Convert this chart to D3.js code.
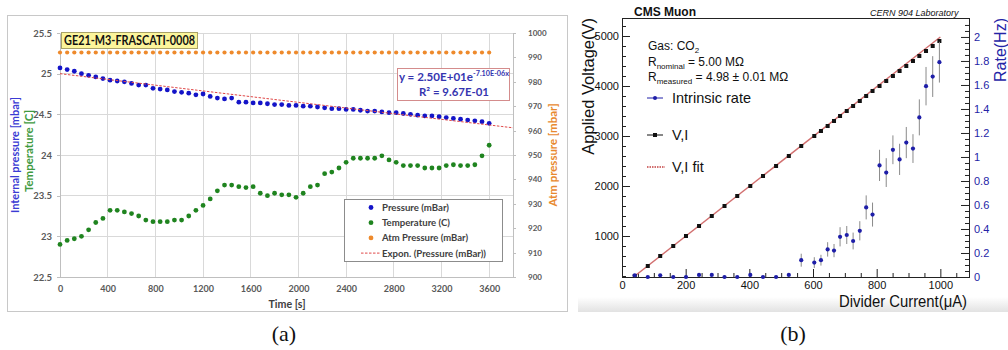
<!DOCTYPE html>
<html>
<head>
<meta charset="utf-8">
<script src="https://cdn.jsdelivr.net/npm/d3@7/dist/d3.min.js"></script>
<style>
  body { margin: 0; background: #fff; }
  svg { display: block; }
</style>
</head>
<body>
<svg id="fig" width="1008" height="350"></svg>
<script>
// ---------- (a) leak test of GE21-M3-FRASCATI-0008 ----------
const timeSec = [0, 60, 120, 180, 240, 300, 360, 420, 480, 540, 600, 660, 720, 780, 840, 900, 960, 1020,
  1080, 1140, 1200, 1260, 1320, 1380, 1440, 1500, 1560, 1620, 1680, 1740, 1800, 1860, 1920, 1980, 2040,
  2100, 2160, 2220, 2280, 2340, 2400, 2460, 2520, 2580, 2640, 2700, 2760, 2820, 2880, 2940, 3000, 3060,
  3120, 3180, 3240, 3300, 3360, 3420, 3480, 3540, 3600];
const pressure = [25.07, 25.05, 25.03, 25.00, 24.98, 24.96, 24.94, 24.92, 24.91, 24.90, 24.88, 24.86,
  24.86, 24.82, 24.81, 24.80, 24.78, 24.77, 24.76, 24.74, 24.75, 24.72, 24.70, 24.69, 24.70, 24.65, 24.65,
  24.64, 24.64, 24.63, 24.62, 24.62, 24.61, 24.61, 24.60, 24.60, 24.59, 24.58, 24.57, 24.57, 24.56, 24.56,
  24.55, 24.54, 24.54, 24.53, 24.52, 24.52, 24.51, 24.50, 24.49, 24.48, 24.48, 24.47, 24.46, 24.45, 24.44,
  24.43, 24.42, 24.41, 24.39];
const temperature = [22.90, 22.95, 22.97, 23.00, 23.08, 23.17, 23.22, 23.32, 23.32, 23.30, 23.28, 23.25,
  23.20, 23.18, 23.18, 23.18, 23.20, 23.20, 23.25, 23.32, 23.38, 23.46, 23.56, 23.63, 23.63, 23.61, 23.60,
  23.61, 23.53, 23.50, 23.53, 23.51, 23.51, 23.48, 23.53, 23.61, 23.63, 23.77, 23.79, 23.84, 23.91, 23.96,
  23.96, 23.96, 23.96, 23.99, 23.94, 23.91, 23.87, 23.87, 23.87, 23.84, 23.84, 23.84, 23.87, 23.88, 23.87,
  23.87, 23.88, 23.99, 24.12];
const atmPressure = [992, 992, 992, 992, 992, 992, 992, 992, 992, 992, 992, 992, 992, 992, 992, 992,
  992, 992, 992, 992, 992, 992, 992, 992, 992, 992, 992, 992, 992, 992, 992, 992, 992, 992, 992, 992,
  992, 992, 992, 992, 992, 992, 992, 992, 992, 992, 992, 992, 992, 992, 992, 992, 992, 992, 992, 992,
  992, 992, 992, 992, 992];
const expA = 25.0, expB = -7.10e-6;   // y = 2.50E+01 e^(-7.10E-06 x)
const timeTicks = [0, 400, 800, 1200, 1600, 2000, 2400, 2800, 3200, 3600];
const leftTicks = [22.5, 23, 23.5, 24, 24.5, 25, 25.5];
const atmTicks = [900, 910, 920, 930, 940, 950, 960, 970, 980, 990, 1000];

// ---------- (b) divider current scan ----------
const current = [40, 81, 120, 161, 201, 242, 282, 322, 362, 403, 443, 484, 524, 563, 604, 625, 646, 666,
  685, 706, 726, 747, 767, 787, 809, 830, 851, 872, 893, 914, 934, 955, 976, 997];
const voltage = [200, 400, 600, 800, 1000, 1200, 1400, 1600, 1800, 2000, 2200, 2400, 2600, 2800, 3000,
  3100, 3200, 3300, 3400, 3500, 3600, 3700, 3800, 3900, 4000, 4100, 4200, 4300, 4400, 4500, 4600, 4700,
  4800, 4900];
const rate = [0.014, 0, 0.014, 0, 0, 0.017, 0.017, 0, 0, 0.017, 0, 0, 0.017, 0.14, 0.12, 0.14, 0.23, 0.22,
  0.335, 0.35, 0.30, 0.385, 0.58, 0.52, 0.93, 0.87, 1.06, 0.98, 1.12, 1.07, 1.33, 1.59, 1.67, 1.79];
const rateErr = [0.01, 0.01, 0.01, 0.01, 0.01, 0.01, 0.01, 0.01, 0.01, 0.01, 0.01, 0.01, 0.01, 0.054,
  0.045, 0.045, 0.06, 0.055, 0.08, 0.075, 0.07, 0.08, 0.1, 0.1, 0.13, 0.12, 0.12, 0.13, 0.13, 0.12, 0.15,
  0.16, 0.17, 0.17];
const fitR = 4.98;   // MOhm, V = R * I
const currentTicks = [0, 200, 400, 600, 800, 1000];
const voltageTicks = [1000, 2000, 3000, 4000, 5000];
const rateTicks = [0, 0.2, 0.4, 0.6, 0.8, 1, 1.2, 1.4, 1.6, 1.8, 2];

const svg = d3.select('#fig');
const excel = 'Lato, "Open Sans", sans-serif';
const root = '"Liberation Sans", Arial, sans-serif';
const plain = d3.format('');   // no thousands separator

function squeeze(sel, len) {
  return sel.attr('textLength', len).attr('lengthAdjust', 'spacingAndGlyphs');
}

// =================== panel (a) ===================
const pa = svg.append('g');
pa.append('rect').attr('x', 7.5).attr('y', 15.5).attr('width', 560).attr('height', 296)
  .attr('fill', '#fff').attr('stroke', '#c8c8c8');

const xA = d3.scaleLinear().domain([0, 3800]).range([60, 513]);
const yA = d3.scaleLinear().domain([22.5, 25.5]).range([277, 33]);
const yAtm = d3.scaleLinear().domain([900, 1000]).range([277, 33]);

// gridlines
pa.append('g').attr('shape-rendering', 'crispEdges').selectAll('line')
  .data(leftTicks.slice(1)).join('line')
  .attr('x1', xA(0)).attr('x2', xA(3800)).attr('y1', d => yA(d)).attr('y2', d => yA(d))
  .attr('stroke', '#d9d9d9');
pa.append('g').attr('shape-rendering', 'crispEdges').selectAll('line')
  .data(timeTicks.slice(1)).join('line')
  .attr('x1', d => xA(d)).attr('x2', d => xA(d)).attr('y1', yA(22.5)).attr('y2', yA(25.5))
  .attr('stroke', '#d9d9d9');

function excelAxis(g, size) {
  g.attr('font-family', excel).attr('font-weight', 'bold').attr('font-size', size);
  g.selectAll('.domain, line').attr('stroke', '#bfbfbf').attr('shape-rendering', 'crispEdges');
  g.selectAll('text').attr('fill', '#595959');
}

pa.append('g').attr('transform', `translate(0,${yA(22.5)})`)
  .call(d3.axisBottom(xA).tickValues(timeTicks).tickSize(0).tickPadding(9).tickSizeOuter(0).tickFormat(plain))
  .call(g => excelAxis(g, 9));
pa.append('g').attr('transform', `translate(${xA(0)},0)`)
  .call(d3.axisLeft(yA).tickValues(leftTicks).tickSize(3).tickPadding(5).tickSizeOuter(0).tickFormat(plain))
  .call(g => excelAxis(g, 9.5));
pa.append('g').attr('transform', `translate(${xA(3800)},0)`)
  .call(d3.axisRight(yAtm).tickValues(atmTicks).tickSize(3).tickPadding(12).tickSizeOuter(0).tickFormat(plain))
  .call(g => excelAxis(g, 8));

// axis titles
squeeze(pa.append('text').attr('x', 287).attr('y', 308).attr('text-anchor', 'middle')
  .attr('font-family', excel).attr('font-weight', 'bold').attr('font-size', 11).attr('fill', '#404040')
  .text('Time [s]'), 37);
squeeze(pa.append('text').attr('transform', 'translate(19,155) rotate(-90)').attr('text-anchor', 'middle')
  .attr('font-family', excel).attr('font-weight', 'bold').attr('font-size', 11).attr('fill', '#3b3bd4')
  .text('Internal pressure [mbar]'), 116);
squeeze(pa.append('text').attr('transform', 'translate(33,151) rotate(-90)').attr('text-anchor', 'middle')
  .attr('font-family', excel).attr('font-weight', 'bold').attr('font-size', 11).attr('fill', '#3f9a3f')
  .text('Temperature [C]'), 82);
squeeze(pa.append('text').attr('transform', 'translate(557,155) rotate(-90)').attr('text-anchor', 'middle')
  .attr('font-family', excel).attr('font-weight', 'bold').attr('font-size', 10.5).attr('fill', '#e8892f')
  .text('Atm pressure [mbar]'), 103);

// series
const colP = '#1414c8', colT = '#1f841f', colAtm = '#ee8a2c', colFit = '#e04848';
pa.append('g').selectAll('circle').data(timeSec).join('circle')
  .attr('cx', d => xA(d)).attr('cy', (d, i) => yAtm(atmPressure[i])).attr('r', 2.1).attr('fill', colAtm);
pa.append('g').selectAll('circle').data(timeSec).join('circle')
  .attr('cx', d => xA(d)).attr('cy', (d, i) => yA(temperature[i])).attr('r', 2.4).attr('fill', colT);
pa.append('g').selectAll('circle').data(timeSec).join('circle')
  .attr('cx', d => xA(d)).attr('cy', (d, i) => yA(pressure[i])).attr('r', 2.4).attr('fill', colP);

// exponential trendline (from fitted parameters)
pa.append('path').datum(d3.range(0, 3801, 100))
  .attr('d', d3.line().x(t => xA(t)).y(t => yA(expA * Math.exp(expB * t))))
  .attr('fill', 'none').attr('stroke', colFit).attr('stroke-width', 1).attr('stroke-dasharray', '2.5,1.5');

// title badge
pa.append('rect').attr('x', 61.5).attr('y', 32.5).attr('width', 136).attr('height', 16)
  .attr('fill', '#fcf59b').attr('stroke', '#a8a268');
squeeze(pa.append('text').attr('x', 64).attr('y', 45)
  .attr('font-family', excel).attr('font-weight', 'bold').attr('font-size', 12.5).attr('fill', '#111')
  .text('GE21-M3-FRASCATI-0008'), 131);

// trendline equation
pa.append('rect').attr('x', 397.5).attr('y', 68.5).attr('width', 112).attr('height', 32)
  .attr('fill', '#fff').attr('stroke', '#d48c8c');
const eq = pa.append('text').attr('x', 399).attr('y', 81)
  .attr('font-family', excel).attr('font-weight', 'bold').attr('font-size', 11).attr('fill', '#3535b0');
squeeze(eq.append('tspan').text('y = 2.50E+01e'), 74);
eq.append('tspan').attr('dy', -5).attr('font-size', 6.5).attr('textLength', 36)
  .attr('lengthAdjust', 'spacingAndGlyphs').text('-7.10E-06x');
squeeze(pa.append('text').attr('x', 419).attr('y', 96)
  .attr('font-family', excel).attr('font-weight', 'bold').attr('font-size', 11).attr('fill', '#3535b0')
  .text('R² = 9.67E-01'), 70);

// legend
const legA = [
  { label: 'Pressure (mBar)', color: colP, len: 67 },
  { label: 'Temperature (C)', color: colT, len: 68 },
  { label: 'Atm Pressure (mBar)', color: colAtm, len: 86 },
  { label: 'Expon. (Pressure (mBar))', color: colFit, len: 104, dash: true }
];
pa.append('rect').attr('x', 344.5).attr('y', 199.5).attr('width', 158).attr('height', 62)
  .attr('fill', '#fff').attr('stroke', '#8c8c8c');
legA.forEach((d, i) => {
  const y = 207.5 + i * 15.2;
  if (d.dash) {
    pa.append('line').attr('x1', 361).attr('x2', 381).attr('y1', y).attr('y2', y)
      .attr('stroke', d.color).attr('stroke-dasharray', '2.5,1.5');
  } else {
    pa.append('circle').attr('cx', 371).attr('cy', y).attr('r', 2.4).attr('fill', d.color);
  }
  squeeze(pa.append('text').attr('x', 382).attr('y', y + 3.5)
    .attr('font-family', excel).attr('font-weight', 'bold').attr('font-size', 9.5).attr('fill', '#404040')
    .text(d.label), d.len);
});

// =================== panel (b) ===================
const pb = svg.append('g');

// soft shadow under the plot
const grad = svg.append('defs').append('linearGradient').attr('id', 'shade')
  .attr('x1', 0).attr('y1', 0).attr('x2', 0).attr('y2', 1);
grad.append('stop').attr('offset', 0).attr('stop-color', '#fff');
grad.append('stop').attr('offset', 1).attr('stop-color', '#e2e2e2');
pb.append('rect').attr('x', 578).attr('y', 297).attr('width', 430).attr('height', 15).attr('fill', 'url(#shade)');

const xB = d3.scaleLinear().domain([0, 1090]).range([622, 969]);
const yV = d3.scaleLinear().domain([180, 5360]).range([277, 18]);
const yR = d3.scaleLinear().domain([0, 2.158]).range([277, 18]);

pb.append('clipPath').attr('id', 'frameB').append('rect')
  .attr('x', 622).attr('y', 18).attr('width', 347).attr('height', 259);

function rootAxis(g, color) {
  g.attr('font-family', root).attr('font-size', 11);
  g.select('.domain').remove();
  g.selectAll('line').attr('stroke', '#222');
  g.selectAll('text').attr('fill', color);
}

const minorI = d3.range(50, 1090, 50).filter(v => v % 200 !== 0);
const minorV = d3.range(200, 5360, 200).filter(v => v % 1000 !== 0);
const minorR = d3.range(0.05, 2.15, 0.05).filter(v => Math.abs(v / 0.2 - Math.round(v / 0.2)) > 1e-6);

pb.append('g').attr('transform', 'translate(0,277)')
  .call(d3.axisBottom(xB).tickValues(currentTicks).tickSize(-8).tickPadding(4).tickFormat(plain))
  .call(g => rootAxis(g, '#111'));
pb.append('g').attr('transform', 'translate(0,277)')
  .call(d3.axisBottom(xB).tickValues(minorI).tickSize(-4).tickFormat(''))
  .call(g => rootAxis(g, '#111'));
pb.append('g').attr('transform', 'translate(622,0)')
  .call(d3.axisLeft(yV).tickValues(voltageTicks).tickSize(-8).tickPadding(3).tickFormat(plain))
  .call(g => rootAxis(g, '#111'));
pb.append('g').attr('transform', 'translate(622,0)')
  .call(d3.axisLeft(yV).tickValues(minorV).tickSize(-4).tickFormat(''))
  .call(g => rootAxis(g, '#111'));
pb.append('g').attr('transform', 'translate(969,0)')
  .call(d3.axisRight(yR).tickValues(rateTicks).tickSize(-8).tickPadding(5).tickFormat(plain))
  .call(g => rootAxis(g, '#2424a6'));
pb.append('g').attr('transform', 'translate(969,0)')
  .call(d3.axisRight(yR).tickValues(minorR).tickSize(-4).tickFormat(''))
  .call(g => rootAxis(g, '#2424a6'));

pb.append('rect').attr('x', 622).attr('y', 18).attr('width', 347).attr('height', 259)
  .attr('fill', 'none').attr('stroke', '#222').attr('shape-rendering', 'crispEdges');

// V,I fit line
const colFitB = '#d27070';
pb.append('path').datum([36, 1000]).attr('clip-path', 'url(#frameB)')
  .attr('d', d3.line().x(i => xB(i)).y(i => yV(fitR * i)))
  .attr('stroke', colFitB).attr('stroke-width', 1.4).attr('fill', 'none');

// V,I points
pb.append('g').attr('clip-path', 'url(#frameB)').selectAll('rect').data(current).join('rect')
  .attr('x', d => xB(d) - 2).attr('y', (d, i) => yV(voltage[i]) - 2)
  .attr('width', 4).attr('height', 4).attr('fill', '#111');

// rate with error bars
pb.append('g').selectAll('line').data(current).join('line')
  .attr('x1', d => xB(d)).attr('x2', d => xB(d))
  .attr('y1', (d, i) => yR(Math.max(0, rate[i] - rateErr[i])))
  .attr('y2', (d, i) => yR(rate[i] + rateErr[i]))
  .attr('stroke', '#8a8a8a').attr('stroke-width', 1);
pb.append('g').selectAll('circle').data(current).join('circle')
  .attr('cx', d => xB(d)).attr('cy', (d, i) => yR(rate[i])).attr('r', 2.1).attr('fill', '#1e1ea8');

// titles
pb.append('text').attr('x', 634).attr('y', 16).attr('font-family', root).attr('font-weight', 'bold')
  .attr('font-size', 12).attr('fill', '#111').text('CMS Muon');
pb.append('text').attr('x', 870).attr('y', 16).attr('font-family', root).attr('font-style', 'italic')
  .attr('font-size', 9).attr('fill', '#111').text('CERN 904 Laboratory');
pb.append('text').attr('transform', 'translate(594,18) rotate(-90)').attr('text-anchor', 'end')
  .attr('font-family', root).attr('font-size', 16.5).attr('fill', '#111').text('Applied Voltage(V)');
pb.append('text').attr('transform', 'translate(1006,18) rotate(-90)').attr('text-anchor', 'end')
  .attr('font-family', root).attr('font-size', 16).attr('fill', '#2424a6').text('Rate(Hz)');
squeeze(pb.append('text').attr('x', 967).attr('y', 307).attr('text-anchor', 'end')
  .attr('font-family', root).attr('font-size', 16).attr('fill', '#111').text('Divider Current(μA)'), 128);

// info text
const info = pb.append('g').attr('font-family', root).attr('font-size', 12).attr('fill', '#111');
const t1 = info.append('text').attr('x', 648).attr('y', 50).text('Gas: CO');
t1.append('tspan').attr('dy', 3).attr('font-size', 8).text('2');
const t2 = info.append('text').attr('x', 648).attr('y', 66).text('R');
t2.append('tspan').attr('dy', 3).attr('font-size', 8).text('nominal');
t2.append('tspan').attr('dy', -3).text(' = 5.00 MΩ');
const t3 = info.append('text').attr('x', 648).attr('y', 81).text('R');
t3.append('tspan').attr('dy', 3).attr('font-size', 8).text('measured');
t3.append('tspan').attr('dy', -3).text(' = 4.98 ± 0.01 MΩ');

// legend
const legB = [
  { label: 'Intrinsic rate', y: 98, kind: 'rate' },
  { label: 'V,I', y: 135, kind: 'vi' },
  { label: 'V,I fit', y: 167, kind: 'fit' }
];
legB.forEach(d => {
  if (d.kind === 'fit') {
    pb.append('line').attr('x1', 647).attr('x2', 665).attr('y1', d.y).attr('y2', d.y)
      .attr('stroke', colFitB).attr('stroke-width', 2).attr('stroke-dasharray', '1.5,1');
  } else {
    const c = d.kind === 'rate' ? '#1e1ea8' : '#111';
    pb.append('line').attr('x1', 647).attr('x2', 663).attr('y1', d.y).attr('y2', d.y).attr('stroke', c);
    if (d.kind === 'rate') pb.append('circle').attr('cx', 655).attr('cy', d.y).attr('r', 2).attr('fill', c);
    else pb.append('rect').attr('x', 653).attr('y', d.y - 2).attr('width', 4).attr('height', 4).attr('fill', c);
  }
  pb.append('text').attr('x', 672).attr('y', d.y + 5).attr('font-family', root).attr('font-size', 14.5)
    .attr('fill', '#111').text(d.label);
});

// =================== captions ===================
svg.append('g').attr('font-family', '"Liberation Serif", "DejaVu Serif", serif').attr('font-size', 22)
  .attr('fill', '#111').attr('text-anchor', 'middle')
  .selectAll('text').data([{ t: '(a)', x: 284 }, { t: '(b)', x: 793 }]).join('text')
  .attr('x', d => d.x).attr('y', 341).text(d => d.t);
</script>
</body>
</html>
